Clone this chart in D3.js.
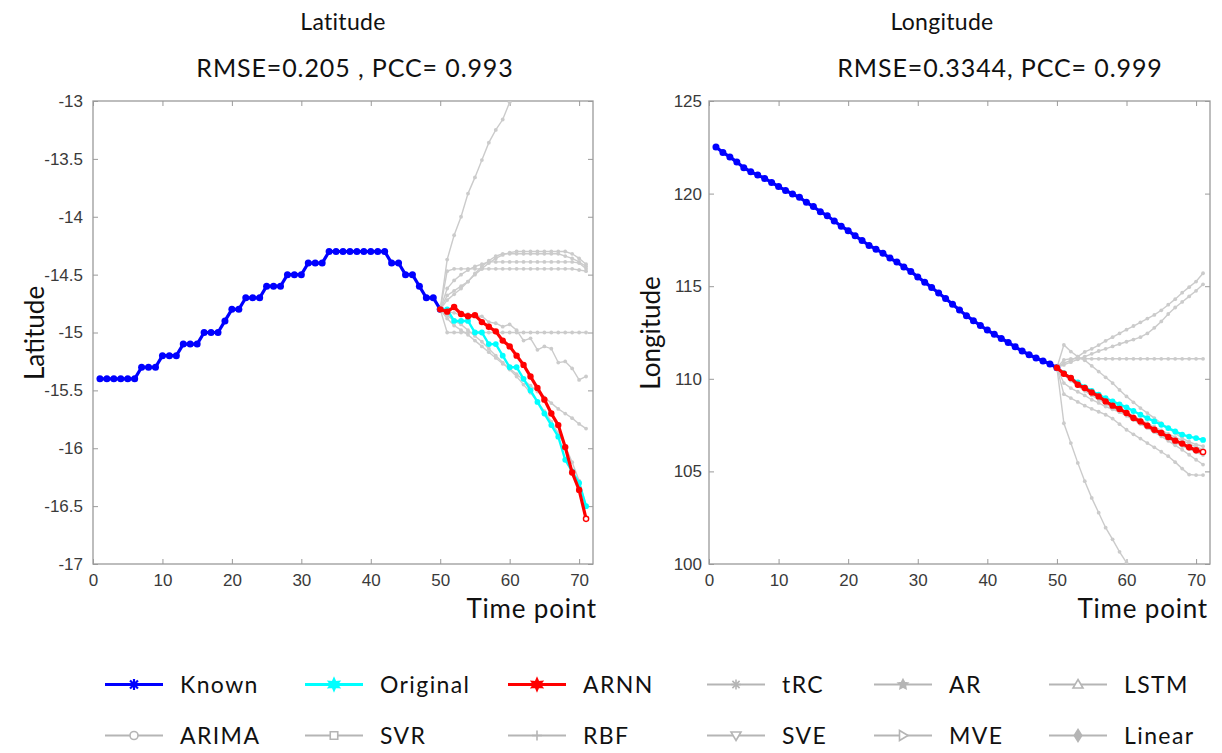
<!DOCTYPE html>
<html>
<head>
<meta charset="utf-8">
<script src="https://cdn.jsdelivr.net/npm/d3@7"></script>
<style>
  body { margin: 0; background: #fff; }
  text { font-family: Lato, "Open Sans", sans-serif; }
  .tick text { font-family: "Liberation Sans", Arial, sans-serif; }
</style>
</head>
<body>
<svg id="chart" width="1222" height="753"></svg>
<script>
// time axis
const timeKnown = d3.range(1, 51);
const timePred = d3.range(50, 72);
const xTicks = [0, 10, 20, 30, 40, 50, 60, 70];

// ---- Latitude ----
const latKnown = [-15.4, -15.4, -15.4, -15.4, -15.4, -15.4, -15.3, -15.3, -15.3, -15.2,
  -15.2, -15.2, -15.1, -15.1, -15.1, -15.0, -15.0, -15.0, -14.9, -14.8,
  -14.8, -14.7, -14.7, -14.7, -14.6, -14.6, -14.6, -14.5, -14.5, -14.5,
  -14.4, -14.4, -14.4, -14.3, -14.3, -14.3, -14.3, -14.3, -14.3, -14.3,
  -14.3, -14.3, -14.4, -14.4, -14.5, -14.5, -14.6, -14.7, -14.7, -14.8];
const latOriginal = [-14.8, -14.8, -14.9, -14.9, -14.9, -15.0, -15.0, -15.1, -15.1, -15.2, -15.3,
  -15.3, -15.4, -15.5, -15.6, -15.7, -15.8, -15.9, -16.1, -16.2, -16.3, -16.5];
const latArnn = [-14.8, -14.82, -14.78, -14.84, -14.86, -14.85, -14.91, -14.95, -14.99, -15.07, -15.12,
  -15.2, -15.28, -15.38, -15.48, -15.58, -15.7, -15.8, -15.99, -16.21, -16.36, -16.61];
const latTRC = [-14.8, -14.37, -14.16, -14.0, -13.8, -13.66, -13.51, -13.36, -13.25, -13.16, -13.01];
const latAR = [-14.8, -14.47, -14.45, -14.45, -14.45, -14.45, -14.45, -14.45, -14.45, -14.45, -14.45,
  -14.45, -14.45, -14.45, -14.45, -14.45, -14.45, -14.45, -14.45, -14.45, -14.46, -14.47];
const latLSTM = [-14.8, -14.68, -14.64, -14.6, -14.56, -14.5, -14.45, -14.4, -14.36, -14.33, -14.31,
  -14.3, -14.3, -14.3, -14.3, -14.3, -14.3, -14.3, -14.3, -14.32, -14.36, -14.41];
const latARIMA = [-14.8, -14.72, -14.67, -14.62, -14.56, -14.49, -14.43, -14.38, -14.34, -14.32, -14.32,
  -14.32, -14.32, -14.32, -14.32, -14.32, -14.32, -14.32, -14.34, -14.36, -14.39, -14.43];
const latSVR = [-14.8, -14.62, -14.55, -14.5, -14.46, -14.43, -14.41, -14.39, -14.39, -14.39, -14.39,
  -14.39, -14.39, -14.39, -14.39, -14.39, -14.39, -14.39, -14.39, -14.39, -14.4, -14.45];
const latRBF = [-14.8, -15.0, -15.0, -15.0, -15.0, -15.0, -15.0, -15.0, -15.0, -15.0, -15.0,
  -15.0, -15.0, -15.0, -15.0, -15.0, -15.0, -15.0, -15.0, -15.0, -15.0, -15.0];
const latSVE = [-14.8, -14.82, -14.83, -14.85, -14.84, -14.86, -14.86, -14.91, -14.92, -14.95, -14.93,
  -14.98, -15.07, -15.05, -15.15, -15.12, -15.14, -15.26, -15.25, -15.31, -15.41, -15.38];
const latMVE = [-14.8, -14.88, -14.94, -14.98, -15.02, -15.07, -15.12, -15.17, -15.22, -15.27, -15.31,
  -15.36, -15.41, -15.46, -15.51, -15.56, -15.61, -15.66, -15.7, -15.74, -15.79, -15.83];
const latLinear = [-14.8, -14.85, -14.9, -14.93, -14.98, -15.03, -15.08, -15.14, -15.2, -15.26, -15.32,
  -15.38, -15.45, -15.52, -15.6, -15.68, -15.77, -15.87, -15.98, -16.12, -16.28, -16.5];

// ---- Longitude ----
const lonKnown = [122.52, 122.22, 121.98, 121.7, 121.4, 121.18, 121.0, 120.82, 120.6, 120.38,
  120.17, 119.98, 119.8, 119.53, 119.3, 119.02, 118.8, 118.52, 118.24, 118.0,
  117.72, 117.47, 117.2, 117.0, 116.78, 116.52, 116.3, 116.04, 115.8, 115.5,
  115.22, 114.93, 114.63, 114.33, 114.02, 113.71, 113.41, 113.14, 112.88, 112.63,
  112.4, 112.18, 111.96, 111.73, 111.5, 111.3, 111.12, 110.96, 110.8, 110.6];
const lonOriginal = [110.6, 110.3, 110.05, 109.8, 109.55, 109.35, 109.14, 108.96, 108.78, 108.62, 108.46,
  108.26, 108.06, 107.88, 107.7, 107.52, 107.34, 107.16, 106.99, 106.88, 106.8, 106.7];
const lonArnn = [110.6, 110.27, 110.04, 109.68, 109.5, 109.26, 109.05, 108.78, 108.55, 108.37, 108.15,
  107.88, 107.7, 107.47, 107.25, 107.07, 106.86, 106.66, 106.5, 106.3, 106.14, 106.05];
const lonTRC = [110.6, 107.6, 106.53, 105.46, 104.47, 103.57, 102.77, 101.96, 101.33, 100.66, 100.07];
const lonAR = [110.6, 111.02, 111.08, 111.08, 111.08, 111.08, 111.08, 111.08, 111.08, 111.08, 111.08,
  111.08, 111.08, 111.08, 111.08, 111.08, 111.08, 111.08, 111.08, 111.08, 111.08, 111.08];
const lonLSTM = [110.6, 110.85, 111.0, 111.2, 111.45, 111.62, 111.82, 112.05, 112.25, 112.45, 112.65,
  112.85, 113.05, 113.25, 113.45, 113.7, 114.0, 114.3, 114.65, 114.95, 115.25, 115.7];
const lonARIMA = [110.6, 110.75, 110.9, 111.05, 111.2, 111.35, 111.5, 111.62, 111.75, 111.88, 112.0,
  112.12, 112.25, 112.45, 112.75, 113.1, 113.5, 113.85, 114.15, 114.45, 114.75, 115.1];
const lonSVR = [110.6, 111.83, 111.47, 111.2, 111.0, 110.7, 110.39, 110.08, 109.77, 109.4, 109.05,
  108.73, 108.42, 108.15, 107.88, 107.6, 107.34, 107.07, 106.8, 106.6, 106.45, 106.36];
const lonRBF = [110.6, 109.77, 109.5, 109.3, 109.1, 108.87, 108.7, 108.5, 108.35, 108.2, 108.06,
  107.83, 107.6, 107.36, 107.12, 106.89, 106.65, 106.41, 106.17, 105.9, 105.63, 105.37];
const lonSVE = [110.6, 109.17, 108.96, 108.75, 108.55, 108.38, 108.22, 108.06, 107.85, 107.55, 107.25,
  107.0, 106.77, 106.53, 106.3, 106.06, 105.82, 105.5, 105.15, 104.83, 104.8, 104.8];
const lonMVE = [110.6, 110.2, 109.9, 109.6, 109.35, 109.1, 108.88, 108.65, 108.43, 108.22, 108.0,
  107.78, 107.56, 107.35, 107.14, 106.94, 106.74, 106.55, 106.37, 106.2, 106.03, 105.88];
const lonLinear = [110.6, 110.25, 109.98, 109.72, 109.47, 109.24, 109.02, 108.8, 108.6, 108.4, 108.2,
  108.0, 107.8, 107.6, 107.41, 107.22, 107.03, 106.85, 106.67, 106.5, 106.33, 106.17];

const latTicks = d3.range(-17, -12.99, 0.5);
const lonTicks = [100, 105, 110, 115, 120, 125];

// legend entries (two rows, six columns)
const legendNames = ["Known", "Original", "ARNN", "tRC", "AR", "LSTM",
                     "ARIMA", "SVR", "RBF", "SVE", "MVE", "Linear"];
const legendMarkers = ["asterisk", "hexagram", "hexagram", "asterisk", "pentagram", "triangleUp",
                       "circle", "square", "plus", "triangleDown", "triangleRight", "diamond"];

const colors = { known: "#0000ff", original: "#00ffff", arnn: "#ff0000", other: "#cbcbcb", otherLegend: "#b5b5b5" };

const panels = [
  { title: "Latitude", stats: "RMSE=0.205 , PCC= 0.993", ylabel: "Latitude",
    left: 93, right: 593, titleX: 343, statsX: 355, ylabelX: 44, timeX: 597,
    yDomain: [-17, -13], yTicks: latTicks,
    known: latKnown, original: latOriginal, arnn: latArnn,
    others: [latTRC, latAR, latLSTM, latARIMA, latSVR, latRBF, latSVE, latMVE, latLinear] },
  { title: "Longitude", stats: "RMSE=0.3344, PCC= 0.999", ylabel: "Longitude",
    left: 709, right: 1210, titleX: 942, statsX: 1000, ylabelX: 660, timeX: 1208,
    yDomain: [100, 125], yTicks: lonTicks,
    known: lonKnown, original: lonOriginal, arnn: lonArnn,
    others: [lonTRC, lonAR, lonLSTM, lonARIMA, lonSVR, lonRBF, lonSVE, lonMVE, lonLinear] }
];

const svg = d3.select("#chart");
const plotTop = 101, plotBottom = 564;
const axisColor = "#9a9a9a";

function markerPath(type, s) {
  // s = half size
  let p = d3.path();
  if (type === "asterisk") {
    p.moveTo(0, -s); p.lineTo(0, s);
    p.moveTo(-s, 0); p.lineTo(s, 0);
    let d = s * 0.72;
    p.moveTo(-d, -d); p.lineTo(d, d);
    p.moveTo(-d, d); p.lineTo(d, -d);
  } else if (type === "plus") {
    p.moveTo(0, -s); p.lineTo(0, s);
    p.moveTo(-s, 0); p.lineTo(s, 0);
  } else if (type === "circle") {
    p.arc(0, 0, s * 0.8, 0, 2 * Math.PI);
  } else if (type === "square") {
    p.rect(-s * 0.75, -s * 0.75, s * 1.5, s * 1.5);
  } else if (type === "triangleUp") {
    p.moveTo(0, -s); p.lineTo(s, s * 0.7); p.lineTo(-s, s * 0.7); p.closePath();
  } else if (type === "triangleDown") {
    p.moveTo(0, s); p.lineTo(s, -s * 0.7); p.lineTo(-s, -s * 0.7); p.closePath();
  } else if (type === "triangleRight") {
    p.moveTo(s, 0); p.lineTo(-s * 0.7, -s); p.lineTo(-s * 0.7, s); p.closePath();
  } else if (type === "diamond") {
    p.moveTo(0, -s * 1.2); p.lineTo(s * 0.75, 0); p.lineTo(0, s * 1.2); p.lineTo(-s * 0.75, 0); p.closePath();
  } else if (type === "hexagram" || type === "pentagram") {
    let n = type === "hexagram" ? 6 : 5;
    for (let i = 0; i < n * 2; i++) {
      let r = i % 2 === 0 ? s : s * 0.5;
      let a = -Math.PI / 2 + i * Math.PI / n;
      if (i === 0) p.moveTo(r * Math.cos(a), r * Math.sin(a));
      else p.lineTo(r * Math.cos(a), r * Math.sin(a));
    }
    p.closePath();
  }
  return p.toString();
}

panels.forEach((panel, pi) => {
  const x = d3.scaleLinear().domain([0, 72]).range([panel.left, panel.right]);
  const y = d3.scaleLinear().domain(panel.yDomain).range([plotBottom, plotTop]);
  const g = svg.append("g");

  // clip
  svg.append("clipPath").attr("id", "clip" + pi)
    .append("rect")
    .attr("x", panel.left).attr("y", plotTop)
    .attr("width", panel.right - panel.left).attr("height", plotBottom - plotTop);

  // axes (ticks pointing inward, box style)
  const fmt = d => String(+d.toFixed(1));
  const xAxis = g.append("g").attr("transform", `translate(0,${plotBottom})`)
    .call(d3.axisBottom(x).tickValues(xTicks).tickSize(-5).tickPadding(10).tickFormat(fmt));
  const xTop = g.append("g").attr("transform", `translate(0,${plotTop})`)
    .call(d3.axisTop(x).tickValues(xTicks).tickSize(-5).tickFormat(""));
  const yAxis = g.append("g").attr("transform", `translate(${panel.left},0)`)
    .call(d3.axisLeft(y).tickValues(panel.yTicks).tickSize(-5).tickPadding(pi === 0 ? 10 : 7).tickFormat(fmt));
  const yRight = g.append("g").attr("transform", `translate(${panel.right},0)`)
    .call(d3.axisRight(y).tickValues(panel.yTicks).tickSize(-5).tickFormat(""));
  [xAxis, xTop, yAxis, yRight].forEach(a => {
    a.select(".domain").remove();
    a.selectAll(".tick line").attr("stroke", axisColor).attr("stroke-width", 1);
    a.selectAll(".tick text").attr("fill", "#3a3a3a").style("font-size", "17px");
  });
  g.append("rect")
    .attr("x", panel.left).attr("y", plotTop)
    .attr("width", panel.right - panel.left).attr("height", plotBottom - plotTop)
    .attr("fill", "none").attr("stroke", axisColor).attr("stroke-width", 1.3);

  // labels
  svg.append("text").attr("x", panel.titleX).attr("y", 30)
    .attr("text-anchor", "middle").style("font-size", "23px").attr("fill", "#111")
    .style("letter-spacing", "0.3px")
    .text(panel.title);
  svg.append("text").attr("x", panel.statsX).attr("y", 77)
    .attr("text-anchor", "middle").style("font-size", "25px").attr("fill", "#111")
    .style("letter-spacing", "0.9px")
    .text(panel.stats);
  svg.append("text")
    .attr("transform", `translate(${panel.ylabelX},333) rotate(-90)`)
    .attr("text-anchor", "middle").style("font-size", "26px").attr("fill", "#111")
    .text(panel.ylabel);
  svg.append("text").attr("x", panel.timeX).attr("y", 618)
    .attr("text-anchor", "end").style("font-size", "26px").attr("fill", "#111")
    .style("letter-spacing", "0.8px")
    .text("Time point");

  const plot = svg.append("g").attr("clip-path", `url(#clip${pi})`);
  const line = d3.line().x(d => x(d[0])).y(d => y(d[1]));
  const pairs = (ts, vs) => vs.map((v, i) => [ts[i], v]);

  // known
  const kn = pairs(timeKnown, panel.known);
  plot.append("path").datum(kn).attr("d", line)
    .attr("fill", "none").attr("stroke", colors.known).attr("stroke-width", 3.2);
  plot.selectAll(null).data(kn).join("circle")
    .attr("cx", d => x(d[0])).attr("cy", d => y(d[1])).attr("r", 3.5)
    .attr("fill", colors.known);

  // other methods
  panel.others.forEach(vals => {
    const pts = pairs(timePred, vals);
    plot.append("path").datum(pts).attr("d", line)
      .attr("fill", "none").attr("stroke", colors.other).attr("stroke-width", 1.4);
    plot.selectAll(null).data(pts.slice(1)).join("circle")
      .attr("cx", d => x(d[0])).attr("cy", d => y(d[1])).attr("r", 1.9)
      .attr("fill", colors.other);
  });

  // original
  const or = pairs(timePred, panel.original);
  plot.append("path").datum(or).attr("d", line)
    .attr("fill", "none").attr("stroke", colors.original).attr("stroke-width", 2.4);
  plot.selectAll(null).data(or).join("circle")
    .attr("cx", d => x(d[0])).attr("cy", d => y(d[1])).attr("r", 2.9)
    .attr("fill", colors.original);

  // ARNN
  const ar = pairs(timePred, panel.arnn);
  plot.append("path").datum(ar).attr("d", line)
    .attr("fill", "none").attr("stroke", colors.arnn).attr("stroke-width", 3.2);
  plot.selectAll(null).data(ar).join("circle")
    .attr("cx", d => x(d[0])).attr("cy", d => y(d[1])).attr("r", (d, i) => i === ar.length - 1 ? 2.6 : 3.2)
    .attr("fill", (d, i) => i === ar.length - 1 ? "#fff" : colors.arnn)
    .attr("stroke", colors.arnn).attr("stroke-width", (d, i) => i === ar.length - 1 ? 1.4 : 0);
});

// legend
const legendCols = [105, 305, 508, 707, 874, 1049];
const legendRows = [684.5, 735.5];
const lineLen = 58;
legendNames.forEach((name, i) => {
  const cx = legendCols[i % 6], cy = legendRows[Math.floor(i / 6)];
  const col = i === 0 ? colors.known : i === 1 ? colors.original : i === 2 ? colors.arnn : colors.otherLegend;
  const main = i < 3;
  const gl = svg.append("g");
  gl.append("line").attr("x1", cx).attr("x2", cx + lineLen).attr("y1", cy).attr("y2", cy)
    .attr("stroke", col).attr("stroke-width", main ? 3 : 2);
  const m = legendMarkers[i];
  const filled = ["hexagram", "pentagram", "diamond"].includes(m);
  const open = ["circle", "square", "triangleUp", "triangleDown", "triangleRight"].includes(m);
  gl.append("path")
    .attr("transform", `translate(${cx + lineLen / 2},${cy})`)
    .attr("d", markerPath(m, main ? 5.5 : 5))
    .attr("fill", filled ? col : open ? "#fff" : "none")
    .attr("stroke", col).attr("stroke-width", main ? 2.2 : 1.6);
  gl.append("text").attr("x", cx + lineLen + 17).attr("y", cy + 8.5)
    .style("font-size", "23px").style("letter-spacing", "1.4px").attr("fill", "#111")
    .text(name);
});
</script>
</body>
</html>
